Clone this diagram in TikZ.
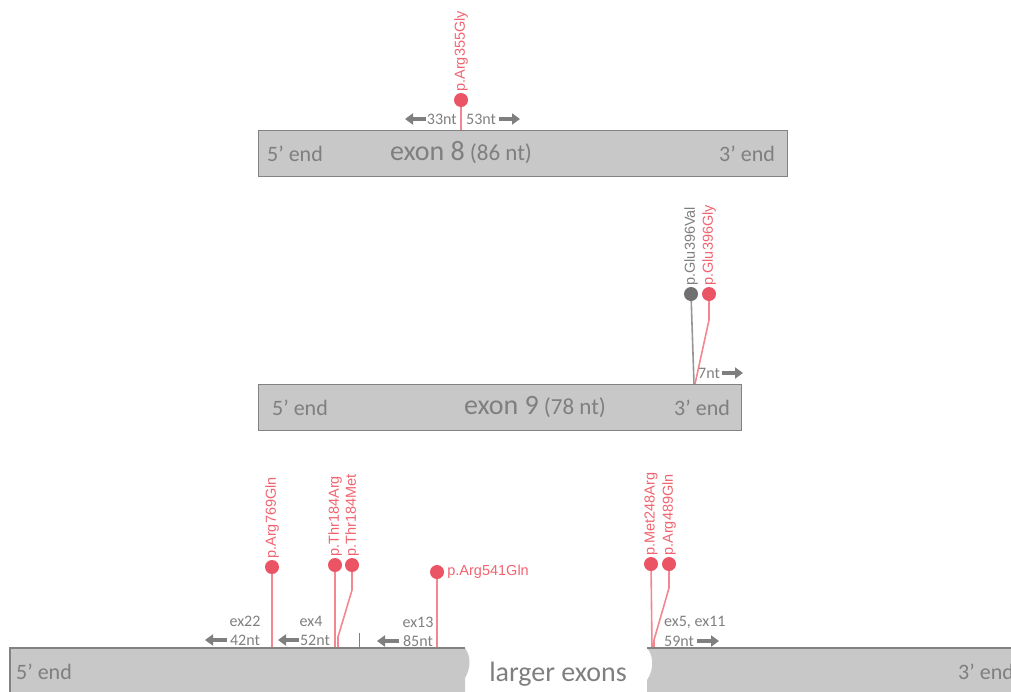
\documentclass[tikz,border=0pt]{standalone}
\usepackage{fontspec}
\setmainfont{Carlito}
\newfontfamily\labfont{Liberation Sans}
\usetikzlibrary{arrows.meta,backgrounds}
\definecolor{boxfill}{RGB}{200,200,200}
\definecolor{boxline}{RGB}{130,130,130}
\definecolor{txtgray}{RGB}{127,127,127}
\definecolor{mutred}{RGB}{234,84,100}
\definecolor{labred}{RGB}{240,100,112}
\definecolor{linered}{RGB}{242,135,145}
\definecolor{dotgray}{RGB}{112,112,112}
\definecolor{linegray}{RGB}{150,150,150}
\begin{document}
\begin{tikzpicture}[x=1pt,y=-1pt,
  exonbox/.style={draw=boxline, fill=boxfill, line width=1.2pt, inner sep=0, anchor=north west},
  endtxt/.style={text=txtgray, font=\fontsize{22}{26}\selectfont, inner sep=0},
  bigtxt/.style={text=txtgray, inner sep=0},
  smalltxt/.style={text=txtgray, font=\fontsize{16}{19}\selectfont, inner sep=0},
  mutdot/.style={circle, fill=mutred, minimum size=14pt, inner sep=0},
  graydot/.style={circle, fill=dotgray, minimum size=14pt, inner sep=0},
  mutline/.style={draw=linered, line width=1.6pt},
  grayline/.style={draw=linegray, line width=1.6pt},
  mutlab/.style={text=labred, font=\labfont\fontsize{14.5}{17}\selectfont, inner sep=0},
  vlab/.style={mutlab, rotate=90, anchor=west},
  blockarrow/.style={draw=txtgray, line width=3.2pt, -{Triangle[length=8pt,width=11pt]}},
]
\useasboundingbox (0,0) rectangle (1011,691);
\clip (0,0) rectangle (1011,691);

% ---------------- exon 8 ----------------
\node[exonbox, minimum width=529pt, minimum height=46pt] (ex8) at (258,130) {};
\node[endtxt] (ex8five) at (295,154) {5’ end};
\node[bigtxt] (ex8name) at (461,153) {{\fontsize{28}{32}\selectfont exon 8}\hspace{5pt}{\fontsize{23}{26}\selectfont (86 nt)}};
\node[endtxt] (ex8three) at (747,154) {3’ end};

\node[mutdot] (d355) at (461,100) {};
\begin{scope}[on background layer]
\draw[mutline] (d355.center) -- (d355 |- ex8.north);
\end{scope}
\node[vlab] (l355) at ([yshift=1pt]d355.north) {p.Arg355Gly};

\node[smalltxt, anchor=east] (t33) at (457,119) {33nt};
\node[smalltxt, anchor=west] (t53) at (466,119) {53nt};
\coordinate (a33s) at (426,119);
\coordinate (a33e) at (405,119);
\coordinate (a53s) at (499,119);
\coordinate (a53e) at (520,119);
\draw[blockarrow] (a33s) -- (a33e);
\draw[blockarrow] (a53s) -- (a53e);

% ---------------- exon 9 ----------------
\node[exonbox, minimum width=483pt, minimum height=46pt] (ex9) at (258,384) {};
\node[endtxt] (ex9five) at (300,408) {5’ end};
\node[bigtxt] (ex9name) at (535,407) {{\fontsize{28}{32}\selectfont exon 9}\hspace{5pt}{\fontsize{23}{26}\selectfont (78 nt)}};
\node[endtxt] (ex9three) at (702,408) {3’ end};

\node[graydot] (dval) at (691,294) {};
\node[mutdot] (dgly) at (709,294) {};
\coordinate (e9hit) at (694,384);
\coordinate (bgly) at (709,320);
\begin{scope}[on background layer]
\draw[grayline] (dval.center) -- (e9hit);
\draw[mutline] (dgly.center) -- (bgly) -- ([xshift=1pt]e9hit);
\end{scope}
\node[vlab, text=txtgray] (lval) at ([yshift=1pt]dval.north) {p.Glu396Val};
\node[vlab] (lgly) at ([yshift=1pt]dgly.north) {p.Glu396Gly};

\node[smalltxt, anchor=west] (t7) at (698,373) {7nt};
\coordinate (a7s) at (722,373);
\coordinate (a7e) at (743,373);
\draw[blockarrow] (a7s) -- (a7e);

% ---------------- larger exons ----------------
\fill[boxfill] (10,648) -- (465,648) .. controls (471,656) and (471,668) .. (465,678) -- (465,695) -- (10,695) -- cycle;
\draw[boxline, line width=1.2pt] (10,695) -- (10,648) -- (465,648);
\fill[boxfill] (647,648) .. controls (654,656) and (654,670) .. (647,680) -- (647,695) -- (1015,695) -- (1015,648) -- cycle;
\draw[boxline, line width=1.2pt] (647,648) -- (1015,648);
\coordinate (bt) at (0,648);

\node[endtxt] (lfive) at (44,672) {5’ end};
\node[bigtxt, font=\fontsize{28}{32}\selectfont] (larger) at (558,674) {larger exons};
\node[endtxt, anchor=west] (lthree) at (958,672) {3’ end};

% mutations
\node[mutdot] (d769) at (272,567) {};
\node[vlab] (l769) at ([yshift=1pt]d769.north) {p.Arg769Gln};

\node[mutdot] (d184r) at (335,565) {};
\node[mutdot] (d184m) at (352,565) {};
\coordinate (b184m) at (352,590);
\coordinate (c184m) at (338,637);
\node[vlab] (l184r) at ([yshift=1pt]d184r.north) {p.Thr184Arg};
\node[vlab] (l184m) at ([yshift=1pt]d184m.north) {p.Thr184Met};
\coordinate (tick) at (359,633);
\draw[txtgray, line width=0.8pt] (tick) -- (tick |- bt);

\node[mutdot] (d541) at (437,572) {};
\node[mutlab, anchor=west] (l541) at ([xshift=3pt]d541.east) {p.Arg541Gln};

\node[mutdot] (d248) at (651,564) {};
\node[mutdot] (d489) at (669,564) {};
\coordinate (c248) at (652,648);
\coordinate (b489) at (669,588);
\coordinate (c489) at (654,640);
\node[vlab] (l248) at ([yshift=1pt]d248.north) {p.Met248Arg};
\node[vlab] (l489) at ([yshift=1pt]d489.north) {p.Arg489Gln};

\begin{scope}[on background layer]
\draw[mutline] (d769.center) -- (d769 |- bt);
\draw[mutline] (d184r.center) -- (d184r |- bt);
\draw[mutline] (d184m.center) -- (b184m) -- (c184m) -- (c184m |- bt);
\draw[mutline] (d541.center) -- (d541 |- bt);
\draw[mutline] (d248.center) -- (c248);
\draw[mutline] (d489.center) -- (b489) -- (c489) -- (c489 |- bt);
\end{scope}

% distance labels
\node[smalltxt] (ex22) at (245,621) {ex22};
\node[smalltxt] (n42) at (245,640) {42nt};
\coordinate (a42s) at (227,640);
\coordinate (a42e) at (205,640);
\draw[blockarrow] (a42s) -- (a42e);

\node[smalltxt] (ex4) at (311,621) {ex4};
\node[smalltxt] (n52) at (315,640) {52nt};
\coordinate (a52s) at (299,640);
\coordinate (a52e) at (278,640);
\draw[blockarrow] (a52s) -- (a52e);

\node[smalltxt] (ex13) at (418,622) {ex13};
\node[smalltxt] (n85) at (418,641) {85nt};
\coordinate (a85s) at (399,641);
\coordinate (a85e) at (377,641);
\draw[blockarrow] (a85s) -- (a85e);

\node[smalltxt, anchor=west] (ex511) at (664,622) {ex5, ex11};
\node[smalltxt, anchor=west] (n59) at (664,641) {59nt};
\coordinate (a59s) at (697,641);
\coordinate (a59e) at (719,641);
\draw[blockarrow] (a59s) -- (a59e);
\end{tikzpicture}
\end{document}
